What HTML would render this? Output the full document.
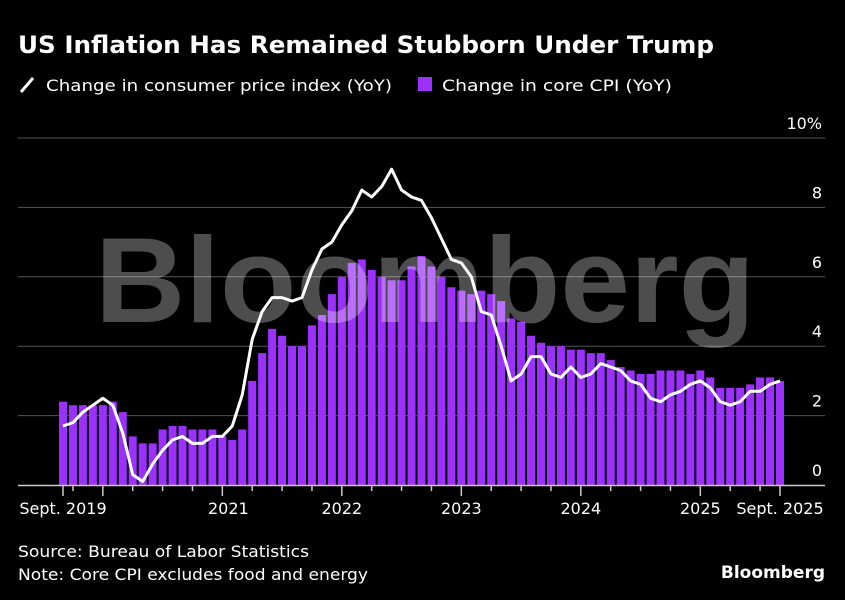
<!DOCTYPE html>
<html><head><meta charset="utf-8"><style>
body{margin:0;background:#000;width:845px;height:600px;overflow:hidden;font-family:"DejaVu Sans",sans-serif;color:#fff}
svg text{font-family:"DejaVu Sans",sans-serif}
</style></head><body>
<svg width="845" height="600" style="position:absolute;left:0;top:0">
<text x="18" y="53" font-size="24" font-weight="bold" fill="#fff" textLength="696" lengthAdjust="spacingAndGlyphs">US Inflation Has Remained Stubborn Under Trump</text>
<g>
<line x1="21" y1="92" x2="33" y2="78" stroke="#fff" stroke-width="3"/>
<text x="46" y="91" font-size="16" fill="#fff" textLength="346" lengthAdjust="spacingAndGlyphs">Change in consumer price index (YoY)</text>
<rect x="418" y="77" width="14" height="14" fill="#9b30ff"/>
<text x="442" y="91" font-size="16" fill="#fff" textLength="230" lengthAdjust="spacingAndGlyphs">Change in core CPI (YoY)</text>
</g>
<g id="grid"></g><g id="bars"></g>
<polyline id="cpi" fill="none" stroke="#fff" stroke-width="3" stroke-linejoin="round"/>
<text x="18" y="0" font-size="1" fill="none"></text>
<text x="425" y="322" font-size="122" font-weight="bold" fill="#fff" fill-opacity="0.3" text-anchor="middle" textLength="660" lengthAdjust="spacingAndGlyphs" style="font-family:'Liberation Sans',sans-serif">Bloomberg</text>
<g id="xaxis"></g>
<text x="18" y="557" font-size="16" fill="#fff" textLength="291" lengthAdjust="spacingAndGlyphs">Source: Bureau of Labor Statistics</text>
<text x="18" y="580" font-size="16" fill="#fff" textLength="350" lengthAdjust="spacingAndGlyphs">Note: Core CPI excludes food and energy</text>
<text x="825" y="578" font-size="17" font-weight="bold" fill="#fff" text-anchor="end">Bloomberg</text>
</svg>
<script>
const cpi=[1.7,1.8,2.1,2.3,2.5,2.3,1.5,0.3,0.1,0.6,1.0,1.3,1.4,1.2,1.2,1.4,1.4,1.7,2.6,4.2,5.0,5.4,5.4,5.3,5.4,6.2,6.8,7.0,7.5,7.9,8.5,8.3,8.6,9.1,8.5,8.3,8.2,7.7,7.1,6.5,6.4,6.0,5.0,4.9,4.0,3.0,3.2,3.7,3.7,3.2,3.1,3.4,3.1,3.2,3.5,3.4,3.3,3.0,2.9,2.5,2.4,2.6,2.7,2.9,3.0,2.8,2.4,2.3,2.4,2.7,2.7,2.9,3.0];
const core=[2.4,2.3,2.3,2.3,2.3,2.4,2.1,1.4,1.2,1.2,1.6,1.7,1.7,1.6,1.6,1.6,1.4,1.3,1.6,3.0,3.8,4.5,4.3,4.0,4.0,4.6,4.9,5.5,6.0,6.4,6.5,6.2,6.0,5.9,5.9,6.3,6.6,6.3,6.0,5.7,5.6,5.5,5.6,5.5,5.3,4.8,4.7,4.3,4.1,4.0,4.0,3.9,3.9,3.8,3.8,3.6,3.4,3.3,3.2,3.2,3.3,3.3,3.3,3.2,3.3,3.1,2.8,2.8,2.8,2.9,3.1,3.1,3.0];
const yTicks=[0,2,4,6,8,10];
const yLabels=["0","2","4","6","8","10%"];
const xLabels=[[0,"Sept. 2019"],[16,"2021"],[28,"2022"],[40,"2023"],[52,"2024"],[64,"2025"],[72,"Sept. 2025"]];
const NS="http://www.w3.org/2000/svg";
const x=i=>63+i*(717/72), y=v=>485-v*34.7;
function mk(t,a,p){const e=document.createElementNS(NS,t);for(const k in a)e.setAttribute(k,a[k]);document.getElementById(p).appendChild(e);return e;}
yTicks.forEach((v,i)=>{
 if(v>0){const l=mk('line',{x1:18,x2:825,y1:y(v),y2:y(v),stroke:'#555','stroke-width':1},'grid');
 
 }
 const t=mk('text',{x:822,y:y(v)-9,'font-size':16,fill:'#fff','text-anchor':'end'},'grid');t.textContent=yLabels[i];
 
 
});
core.forEach((v,i)=>{
 const r=mk('rect',{x:x(i)-4,y:y(v),width:8,height:485-y(v),fill:'#9b30ff'},'bars');
 
 
});
document.getElementById('cpi').setAttribute('points',cpi.map((v,i)=>x(i)+','+y(v)).join(' '));
const ax=mk('line',{x1:18,x2:825,y1:485.5,y2:485.5,stroke:'#ccc','stroke-width':1.5},'xaxis');


for(let i=0;i<=72;i++){
 const yr=(i-4)%12===0, q=(i-1)%3===0;
 if(i===0||i===72||yr||q){
  const tk=mk('line',{x1:x(i),x2:x(i),y1:486,y2:(i===0||i===72||yr)?496:491,stroke:'#ccc','stroke-width':1.5},'xaxis');
  
  
 }
}
xLabels.forEach(([i,s])=>{
 const t=mk('text',{x:x(i)+(i===16?6:0),y:514,'font-size':16,fill:'#fff','text-anchor':'middle'},'xaxis');t.textContent=s;
 
 
});
</script>
</body></html>
